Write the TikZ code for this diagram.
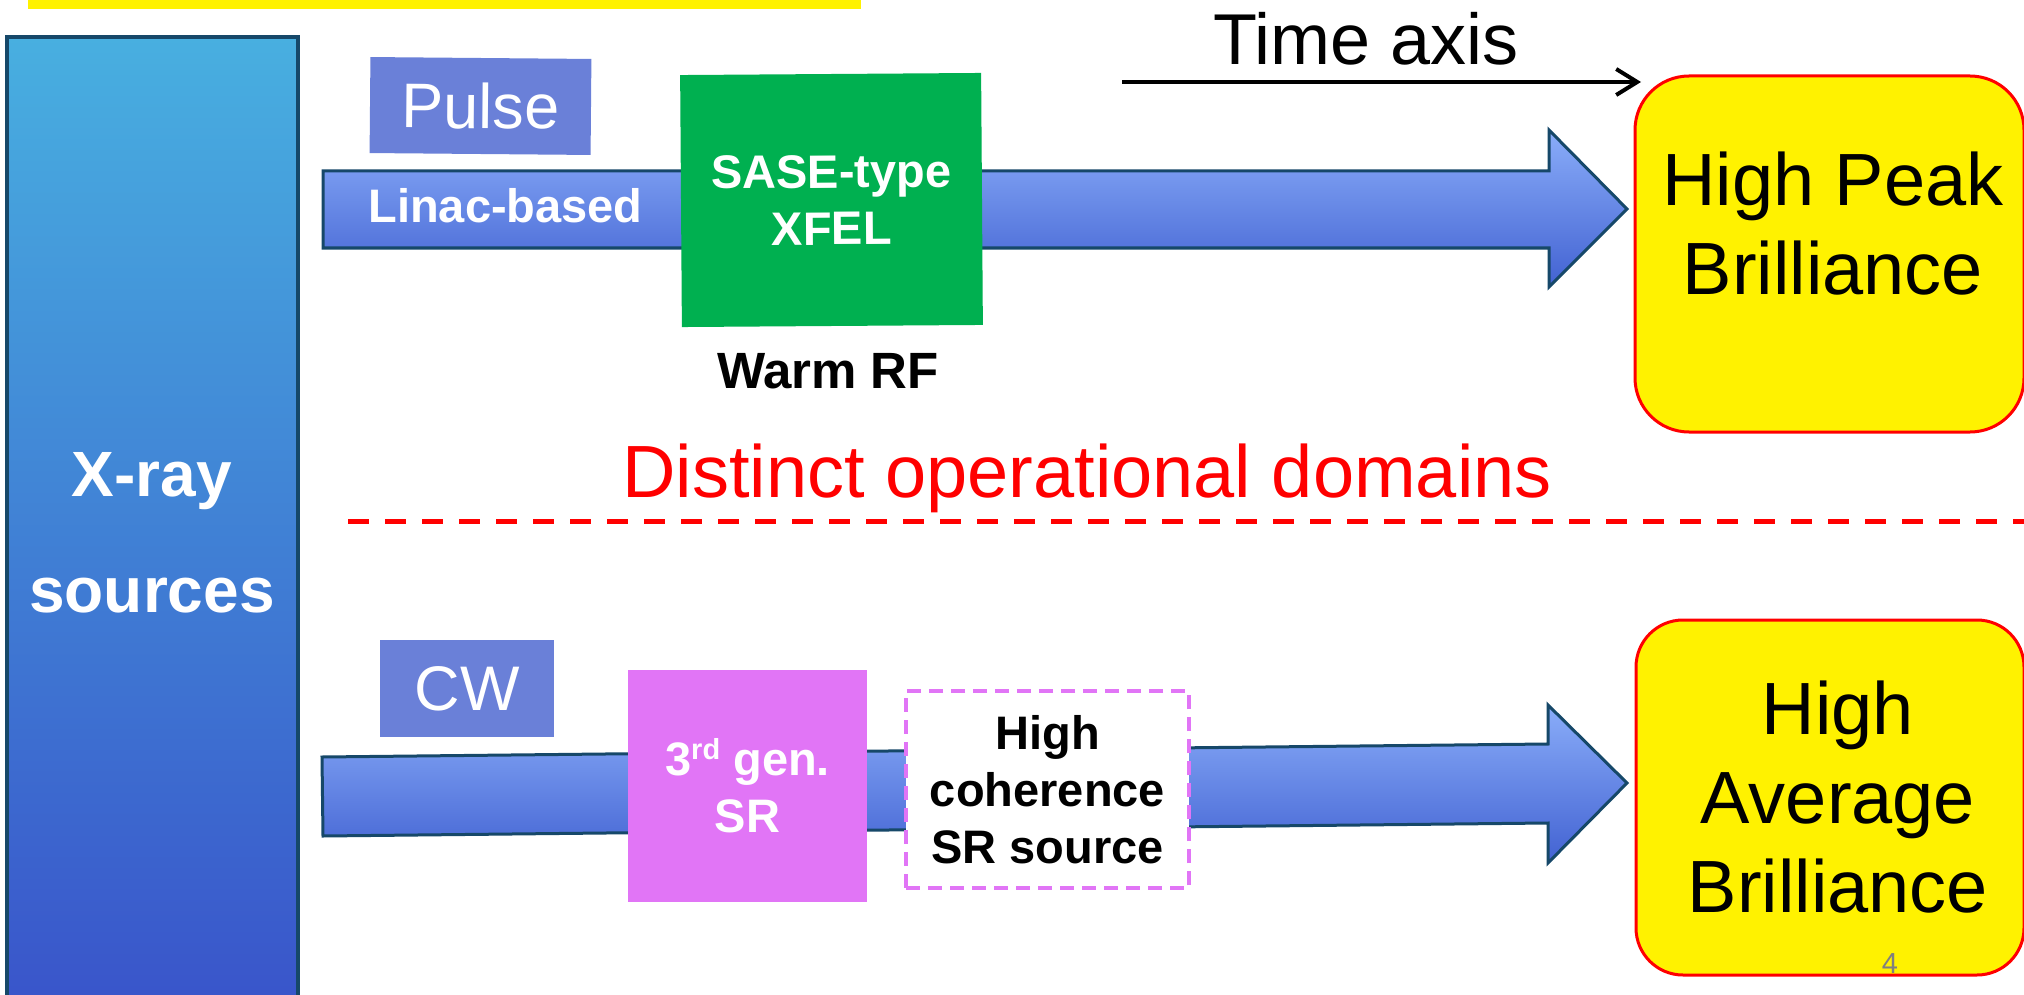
\documentclass[tikz,border=0pt]{standalone}
\usepackage{fontspec}
\setmainfont{Liberation Sans}
\usetikzlibrary{arrows.meta}
\definecolor{colTop}{HTML}{48AFE0}
\definecolor{colBot}{HTML}{3954CA}
\definecolor{edgeBlue}{HTML}{164869}
\definecolor{labelBlue}{HTML}{6A80D8}
\definecolor{arrTop}{HTML}{8AADF9}
\definecolor{arrBot}{HTML}{4262D2}
\definecolor{xfelGreen}{HTML}{00B050}
\definecolor{srPink}{HTML}{E175F6}
\definecolor{pageGray}{HTML}{808080}
\newcommand{\fsz}[2]{\fontsize{#1}{#2}\selectfont}
\begin{document}
\begin{tikzpicture}[x=1pt,y=-1pt,
  every node/.style={inner sep=0pt, outer sep=0pt},
  tagbox/.style={fill=labelBlue, text=white, font=\fsz{63}{75}},
  bigarrow/.style={draw=edgeBlue, line width=3pt, top color=arrTop, bottom color=arrBot, line join=miter},
  arrowshadow/.style={fill=black, opacity=0.16},
  boldtext/.style={font=\bfseries\fsz{47}{57}, align=center},
  brillbox/.style={draw=red, line width=3pt, fill=yellow},
  brilltext/.style={font=\fsz{74}{89}, align=center, text=black},
]
\clip (0,0) rectangle (2024,995);
\fill[white] (0,0) rectangle (2024,995);

% title bar remnant
\node[fill=yellow, minimum width=833pt, minimum height=9pt, anchor=north west] (titlebar) at (28,0) {};

% left column
\node[draw=edgeBlue, line width=4pt, top color=colTop, bottom color=colBot,
      minimum width=291pt, minimum height=975pt, anchor=north west] (src) at (7,37) {};
\node[font=\bfseries\fsz{64}{116}, text=white, align=center] (srctext) at (152,533) {X-ray\\sources};

% ---------- upper lane ----------
\node[tagbox, minimum width=221pt, minimum height=96pt, rotate=-0.5] (pulse) at (480.5,106) {Pulse};

\coordinate (ua1) at (323,171);
\coordinate (ua2) at (1549,171);
\coordinate (ua3) at (1549,130);
\coordinate (ua4) at (1627,209);
\coordinate (ua5) at (1549,287);
\coordinate (ua6) at (1549,248);
\coordinate (ua7) at (323,248);
\fill[arrowshadow, shift={(2,5)}] (ua1) -- (ua2) -- (ua3) -- (ua4) -- (ua5) -- (ua6) -- (ua7) -- cycle;
\path[bigarrow] (ua1) -- (ua2) -- (ua3) -- (ua4) -- (ua5) -- (ua6) -- (ua7) -- cycle;
\node[font=\bfseries\fsz{47}{57}, text=white, anchor=base] (linac) at (505.5,223) {Linac-based};

\node[fill=xfelGreen, minimum width=301pt, minimum height=252pt, rotate=0.4,
      boldtext, text=white] (xfel) at (831.5,200) {SASE-type\\XFEL};
\node[font=\bfseries\fsz{51}{60}, anchor=base] (warm) at (828,388) {Warm RF};

% time axis
\node[font=\fsz{72}{86}, anchor=base] (time) at (1366,65) {Time axis};
\coordinate (t0) at (1122,82);
\coordinate (t1) at (1641,82);
\draw[line width=4pt, -{Straight Barb[length=21pt,width=26pt]}] (t0) -- (t1);

% high peak brilliance
\node[brillbox, rounded corners=54pt, minimum width=389pt, minimum height=356pt, anchor=north west] (peak) at (1635,76) {};
\node[brilltext] (peaktext) at (1833,224) {High Peak\\Brilliance};

% separator
\node[font=\fsz{74}{89}, text=red, anchor=base] (domains) at (1087,497) {Distinct operational domains};
\coordinate (dl) at (348,521);
\coordinate (dr) at (2030,521);
\draw[red, line width=5pt, dash pattern=on 21pt off 16pt] (dl) -- (dr);

% ---------- lower lane ----------
\node[tagbox, minimum width=174pt, minimum height=97pt] (cw) at (467,688.5) {CW};

\coordinate (la1) at (322,757);
\coordinate (la2) at (1548,744);
\coordinate (la3) at (1548,705);
\coordinate (la4) at (1627,783);
\coordinate (la5) at (1548,863);
\coordinate (la6) at (1548,823);
\coordinate (la7) at (323,836);
\fill[arrowshadow, shift={(2,5)}] (la1) -- (la2) -- (la3) -- (la4) -- (la5) -- (la6) -- (la7) -- cycle;
\path[bigarrow] (la1) -- (la2) -- (la3) -- (la4) -- (la5) -- (la6) -- (la7) -- cycle;

\node[fill=srPink, minimum width=239pt, minimum height=232pt, boldtext, text=white] (sr3)
  at (747.5,786) {3\raisebox{16pt}{\fsz{29}{29}rd} gen.\\SR};

\node[draw=srPink, line width=4pt, dash pattern=on 14pt off 8pt, fill=white,
      minimum width=283pt, minimum height=197pt, boldtext] (hcoh)
  at (1047.5,789.5) {High\\coherence\\SR source};

% high average brilliance
\node[brillbox, rounded corners=47pt, minimum width=388pt, minimum height=355pt, anchor=north west] (avg) at (1636,620) {};
\node[brilltext] (avgtext) at (1838,797.5) {High\\Average\\Brilliance};

\node[font=\fsz{29}{35}, text=pageGray, anchor=base] (pagenum) at (1890,973) {4};
\end{tikzpicture}
\end{document}
